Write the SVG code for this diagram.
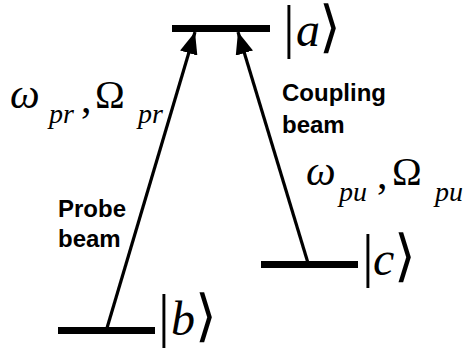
<svg xmlns="http://www.w3.org/2000/svg" width="466" height="358" viewBox="0 0 466 358">
<style>
.lvl{stroke:#000;stroke-width:7;}
.beam{stroke:#000;stroke-width:3.2;fill:none;}
.lbl{font-family:"Liberation Sans",Arial,sans-serif;font-weight:bold;font-size:24px;fill:#000;}
.math{font-family:"Liberation Serif","DejaVu Serif",serif;fill:#000;}
.it{font-style:italic;}
.big{font-size:42px;}
.om{font-size:40px;}
.sub{font-size:28px;}
.bar{font-family:"Liberation Serif","DejaVu Serif",serif;font-size:59px;}
.ket{font-family:"Liberation Serif","DejaVu Serif",serif;font-style:italic;font-size:48px;}
.ang{font-family:"DejaVu Sans",sans-serif;font-size:56px;}
</style>
<defs>
<marker id="ah" markerUnits="userSpaceOnUse" markerWidth="24" markerHeight="18" refX="22" refY="9" orient="auto">
<path d="M0,0 L22,9 L0,18 Z" fill="#000"/>
</marker>
</defs>
<g id="connectors">
<line class="beam" x1="107" y1="328" x2="195" y2="32" marker-end="url(#ah)"/>
<line class="beam" x1="308" y1="263" x2="238" y2="32" marker-end="url(#ah)"/>
</g>
<g id="level-a">
<line class="lvl" x1="172" y1="28.5" x2="270" y2="28.5"/>
<text x="283" y="46"><tspan class="bar">|</tspan><tspan class="ket" x="296">a</tspan><tspan class="ang" x="319">⟩</tspan></text>
</g>
<g id="level-b">
<line class="lvl" x1="58" y1="330.5" x2="155" y2="330.5"/>
<text x="158" y="335"><tspan class="bar">|</tspan><tspan class="ket" x="171">b</tspan><tspan class="ang" x="195">⟩</tspan></text>
</g>
<g id="level-c">
<line class="lvl" x1="261" y1="264.5" x2="358" y2="264.5"/>
<text x="362" y="275"><tspan class="bar">|</tspan><tspan class="ket" x="373">c</tspan><tspan class="ang" x="394">⟩</tspan></text>
</g>
<g id="probe-label">
<text class="math" y="107"><tspan class="it big" x="10" y="108">ω</tspan><tspan class="it sub" x="49" y="123">pr</tspan><tspan class="big" x="81" y="112">,</tspan><tspan class="om" x="95" y="108">Ω</tspan><tspan class="it sub" x="138" y="123">pr</tspan></text>
<text class="lbl" x="58" y="217">Probe</text>
<text class="lbl" x="58" y="247">beam</text>
</g>
<g id="coupling-label">
<text class="lbl" x="282" y="101">Coupling</text>
<text class="lbl" x="282" y="133">beam</text>
<text class="math" y="185"><tspan class="it big" x="306" y="185">ω</tspan><tspan class="it sub" x="339" y="201">pu</tspan><tspan class="big" x="377" y="188">,</tspan><tspan class="om" x="392" y="185">Ω</tspan><tspan class="it sub" x="435" y="201">pu</tspan></text>
</g>
</svg>
